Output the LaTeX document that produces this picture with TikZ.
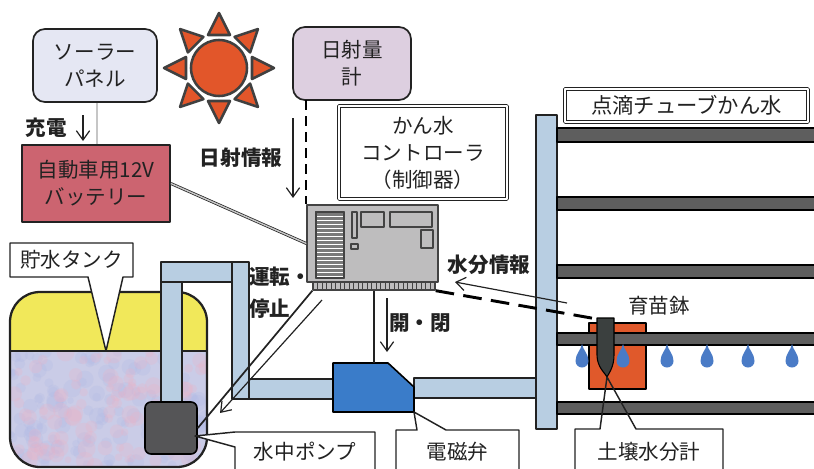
\documentclass[tikz,border=0pt]{standalone}
\usepackage{fontspec}
\setmainfont{Noto Sans CJK JP}
\usetikzlibrary{arrows.meta}

\definecolor{panelfill}{HTML}{E5E7F3}
\definecolor{meterfill}{HTML}{DDCFE0}
\definecolor{battfill}{HTML}{CC6470}
\definecolor{ctrlfill}{HTML}{BEBDBE}
\definecolor{pipefill}{HTML}{B8CEE2}
\definecolor{tubefill}{HTML}{5E5E5E}
\definecolor{potfill}{HTML}{E0592B}
\definecolor{sensorfill}{HTML}{3B403F}
\definecolor{dropfill}{HTML}{4A7BC6}
\definecolor{valvefill}{HTML}{3A7CC9}
\definecolor{tankyellow}{HTML}{F1E85A}
\definecolor{waterfill}{HTML}{CACCE7}
\definecolor{pumpfill}{HTML}{555557}
\definecolor{sunfill}{HTML}{E2562A}
\definecolor{sunline}{HTML}{404040}
\definecolor{ink}{HTML}{222222}

\begin{document}
\begin{tikzpicture}[x=0.75pt, y=-0.75pt, line join=round,
  font=\fontsize{15.4}{20.25}\selectfont,
  box/.style={draw=ink, line width=1.3pt, align=center, inner sep=0pt, text=ink},
  rbox/.style={box, rounded corners=9pt},
  dbox/.style={draw=ink, double, line width=0.6pt, double distance=1.6pt,
    align=center, inner sep=0pt, text=ink},
  lab/.style={font=\fontsize{15.4}{18}\selectfont\bfseries, text=ink, inner sep=0pt},
  txt/.style={text=ink, inner sep=0pt},
  flow/.style={-{Straight Barb[length=7pt,width=10pt,line width=0.9pt]},
    line width=0.9pt, draw=ink},
  wire/.style={draw=ink, double=gray!45, line width=0.55pt, double distance=1.1pt},
  cable/.style={draw=ink, line width=1.3pt},
  signal/.style={draw=black, line width=2.2pt},
  pipe/.style={fill=pipefill, draw=ink, line width=1.1pt},
  tube/.style={fill=tubefill, draw=black, line width=1pt},
  callout/.style={fill=white, draw=ink, line width=1.1pt},
  sunpart/.style={fill=sunfill, draw=sunline, line width=1.9pt},
  part/.style={draw=ink!85, line width=1pt}]

\useasboundingbox (0,0) rectangle (814,468);

% ---------- sun ----------
\coordinate (sun) at (219,68);
\foreach \a in {0,45,...,315}{
  \begin{scope}[shift={(sun)}, rotate=\a]
    \draw[sunpart] (33,-11) -- (55,0) -- (33,11) -- cycle;
  \end{scope}}
\draw[sunpart] (sun) circle[radius=28];

% ---------- solar panel, battery, radiation meter ----------
\node[rbox, fill=panelfill, minimum width=93pt, minimum height=54.75pt]
  (solar) at (95,65.5) {ソーラー\\パネル};
\node[box, fill=battfill, minimum width=111pt, minimum height=57.75pt]
  (battery) at (96,183.5) {自動車用12V\\バッテリー};
\node[rbox, fill=meterfill, minimum width=88.5pt, minimum height=54.75pt]
  (meter) at (352,63.5) {日射量\\計};

% ---------- controller ----------
\node[dbox, minimum width=126pt, minimum height=69.75pt]
  (ctrllabel) at (423,152.5) {かん水\\コントローラ\\（制御器）};

\node[part, fill=ctrlfill, minimum width=98.25pt, minimum height=57.75pt, inner sep=0pt]
  (ctrl) at (372.5,243.5) {};
\node[part, fill=ctrlfill, minimum width=91.5pt, minimum height=6pt, inner sep=0pt]
  (comb) at (374,286) {};
\foreach \x in {317.5,322,...,432}
  \draw[ink!85, line width=0.7pt] (\x,282) -- (\x,290);
% vent grille
\draw[part, fill=white] (316,212) rectangle (344,278);
\foreach \y in {214.5,218.5,...,276}
  \draw[ink!60, line width=1.7pt] (317,\y) -- (343,\y);
\draw[part] (316,212) rectangle (344,278);
% panel details
\draw[part] (352,212) rectangle (357,238);
\draw[part] (351,244) rectangle (358,249);
\draw[part] (361,212) rectangle (384,227);
\draw[part] (390,212) rectangle (432,227);
\draw[part] (421,230) rectangle (433,248);

% ---------- water tank ----------
\begin{scope}
  \clip[rounded corners=22.5pt] (10,292) rectangle (207,467);
  \fill[waterfill] (0,280) rectangle (220,470);
  \pgfmathsetseed{7}
  \foreach \i in {1,...,140}
    \fill[cyan!35!blue!30, opacity=0.3] ({10+197*rnd},{351+116*rnd}) circle[radius={3+6*rnd}];
  \foreach \i in {1,...,120}
    \fill[purple!30, opacity=0.25] ({10+197*rnd},{351+116*rnd}) circle[radius={3+6*rnd}];
  \fill[tankyellow] (0,280) rectangle (220,351);
  \draw[ink, line width=1.1pt] (0,351) -- (220,351);
\end{scope}
\draw[ink, line width=1.7pt, rounded corners=22.5pt] (10,292) rectangle (207,467);

% tank callout
\draw[callout] (10,243) -- (133,243) -- (133,277) -- (123,277) -- (106,351)
  -- (88,277) -- (10,277) -- cycle;
\node[txt] (tanklabel) at (71.5,260) {貯水タンク};

% ---------- pump pipework ----------
\draw[pipe] (161,262) rectangle (232,282);
\draw[pipe] (232,262) rectangle (249,399);
\draw[pipe] (161,282) rectangle (182,402);
\draw[pipe] (249,379) rectangle (333,399);
\draw[pipe] (414,378) rectangle (536,398);

\node[draw=black, line width=1.2pt, fill=pumpfill, rounded corners=4.5pt,
  minimum width=39pt, minimum height=39pt, inner sep=0pt] (pump) at (171,428) {};

% solenoid valve
\draw[fill=valvefill, draw=black, line width=1.2pt]
  (333,363) -- (388,363) -- (414,387) -- (414,412) -- (333,412) -- cycle;
\coordinate (valvetop) at (374,363);

% ---------- drip tubes ----------
\draw[pipe] (536,115) rectangle (557,429);
\foreach \ya/\yb in {128/142, 197/210, 265/278, 402/414}
  \draw[tube] (557,\ya) rectangle (820,\yb);

% seedling pot, tube across it, sensor and drops
\draw[fill=potfill, draw=black, line width=1pt] (589,323) rectangle (646,389);
\draw[tube] (557,333) rectangle (820,345);
\draw[fill=sensorfill, draw=black, line width=0.8pt]
  (597,318) -- (614,318) -- (614,355) .. controls (614,367) and (609,373) .. (607,377)
  .. controls (605,373) and (597,367) .. (597,355) -- cycle;
\coordinate (sensortop) at (597,319);
\foreach \x in {582,623,667,707,748,792}
  \fill[dropfill] (\x,344) .. controls (\x+1,350) and (\x+6.5,354) .. (\x+6.5,361)
    arc[start angle=0, end angle=180, radius=6.5]
    .. controls (\x-6.5,354) and (\x-1,350) .. (\x,344);

\node[dbox, fill=white, minimum width=182.25pt, minimum height=24.75pt,
  font=\fontsize{16}{18}\selectfont] (driplabel) at (686.5,105.5) {点滴チューブかん水};
\node[txt] (potlabel) at (659,306) {育苗鉢};

% ---------- connections ----------
\draw[wire] (solar.south -| 97,0) -- (97,0 |- battery.north);
\draw[wire] (battery.east) -- (ctrl.west);
\draw[signal, dash pattern=on 7.5pt off 4.5pt] (306,100) -- (306,0 |- ctrl.north);
\draw[cable] (comb.south) -- (valvetop);
\draw[cable] (comb.south west) -- (pump.east);
\draw[signal, dash pattern=on 14pt off 7pt] (comb.south east) -- (sensortop);

% ---------- flow arrows and labels ----------
\draw[flow] (83,115) -- (83,141);
\node[lab] (lcharge) at (46,128) {充電};
\draw[flow] (293,118) -- (293,198);
\node[lab] (lsun) at (241,158) {日射情報};
\draw[flow] (567,303) -- (455,282);
\node[lab] (lmoist) at (489,265) {水分情報};
\draw[flow] (387,298) -- (387,352);
\node[lab] (lvalve) at (420,323) {開・閉};
\draw[flow] (322,300) -- (220,413);
\node[lab, align=left, anchor=west, font=\fontsize{15.4}{24}\selectfont\bfseries]
  (lpump) at (249,293) {運転・\\停止};

% ---------- bottom callouts ----------
\draw[callout] (235,475) -- (235,447) -- (195,436) -- (235,432) -- (375,432) -- (375,475);
\node[txt] (pumplabel) at (305,452) {水中ポンプ};
\draw[callout] (396,475) -- (396,430) -- (417,430) -- (414,412) -- (446,430)
  -- (519,430) -- (519,475);
\node[txt] (valvelabel) at (457.5,452) {電磁弁};
\fill[white] (575,429) rectangle (723,475);
\draw[ink, line width=1.1pt] (575,475) -- (575,429) -- (600,429) -- (607,377)
  -- (636,429) -- (723,429) -- (723,475);
\node[txt] (soillabel) at (649,452) {土壌水分計};

\end{tikzpicture}
\end{document}
